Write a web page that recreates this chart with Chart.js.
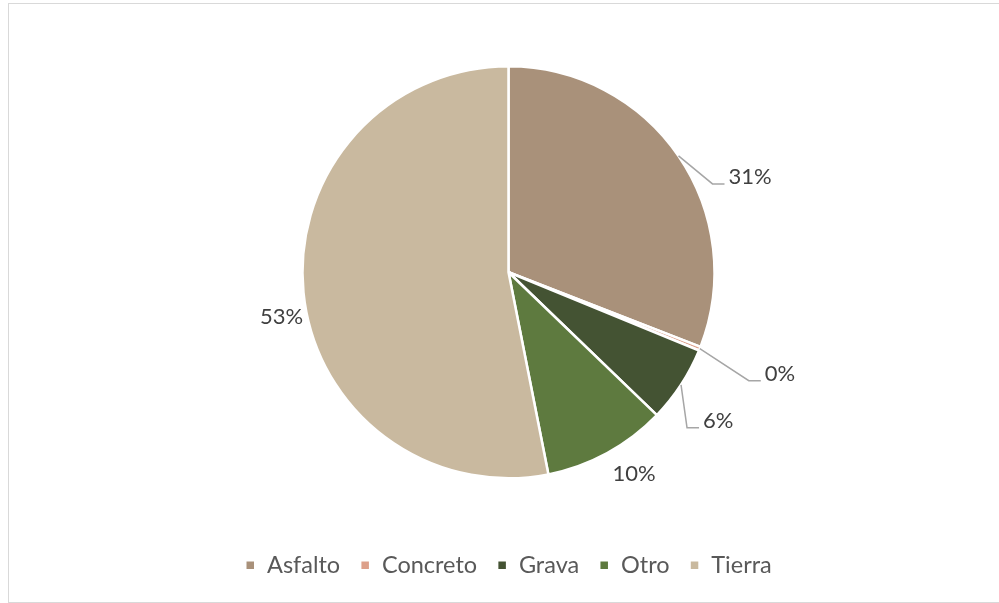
<!DOCTYPE html>
<html>
<head>
<meta charset="utf-8">
<script src="https://cdn.jsdelivr.net/npm/chart.js@4/dist/chart.umd.min.js"></script>
<style>
  html, body { margin: 0; padding: 0; background: #fff; }
  .frame {
    position: absolute; left: 8px; top: 3px; width: 1000px; height: 600px;
    border: 1.5px solid #d9d9d9; box-sizing: border-box;
  }
  .chart-wrap { position: absolute; left: 0; top: 0; width: 999px; height: 603px; }
</style>
</head>
<body>
<div class="frame"></div>
<div class="chart-wrap"><canvas id="chart"></canvas></div>
<script>
// data (share of total, %)
const categories = ['Asfalto', 'Concreto', 'Grava', 'Otro', 'Tierra'];
const shares = [30.9, 0.3, 6.0, 9.7, 53.1];
const colors = ['#a9917a', '#dda08a', '#445333', '#5e7a3f', '#c9b99f'];

// label placement relative to the slice's outer edge point: [dx, dy, leader line?]
const labelPlacement = [
  [34, 28, true],
  [49, 32, true],
  [6, 43, true],
  [27, 21, false],
  [-22, 25, false]
];

const labelFont = '22px Lato';

const pieLabels = {
  id: 'pieLabels',
  afterDatasetsDraw(chart) {
    const ctx = chart.ctx;
    const meta = chart.getDatasetMeta(0);
    const total = shares.reduce((a, b) => a + b, 0);
    ctx.save();
    ctx.font = labelFont;
    ctx.fillStyle = '#404040';
    ctx.strokeStyle = '#a6a6a6';
    ctx.lineWidth = 1.5;
    meta.data.forEach((arc, i) => {
      const p = arc.getProps(['x', 'y', 'startAngle', 'endAngle', 'outerRadius'], true);
      const mid = (p.startAngle + p.endAngle) / 2;
      const ex = p.x + p.outerRadius * Math.cos(mid);
      const ey = p.y + p.outerRadius * Math.sin(mid);
      const [dx, dy, leader] = labelPlacement[i];
      const txt = Math.round(shares[i] / total * 100) + '%';
      if (leader) {
        const bx = ex + dx, by = ey + dy;
        ctx.beginPath();
        ctx.moveTo(ex, ey);
        ctx.lineTo(bx, by);
        ctx.lineTo(bx + 12, by);
        ctx.stroke();
        ctx.textAlign = 'left';
        ctx.textBaseline = 'middle';
        ctx.fillText(txt, bx + 16, by - 7);
      } else {
        ctx.textAlign = 'center';
        ctx.textBaseline = 'middle';
        ctx.fillText(txt, ex + dx, ey + dy);
      }
    });
    ctx.restore();
  }
};

new Chart(document.getElementById('chart').getContext('2d'), {
  type: 'pie',
  data: {
    labels: categories,
    datasets: [{
      data: shares,
      backgroundColor: colors,
      borderColor: '#ffffff',
      borderWidth: 2.5,
      radius: 206
    }]
  },
  options: {
    responsive: true,
    maintainAspectRatio: false,
    animation: false,
    layout: { padding: { left: 18, top: 11, bottom: 16 } },
    plugins: {
      legend: {
        position: 'bottom',
        labels: {
          color: '#595959',
          font: { family: 'Lato', size: 23.5 },
          boxWidth: 10,
          boxHeight: 10,
          padding: 20
        }
      },
      tooltip: { enabled: false }
    }
  },
  plugins: [pieLabels]
});
</script>
</body>
</html>
